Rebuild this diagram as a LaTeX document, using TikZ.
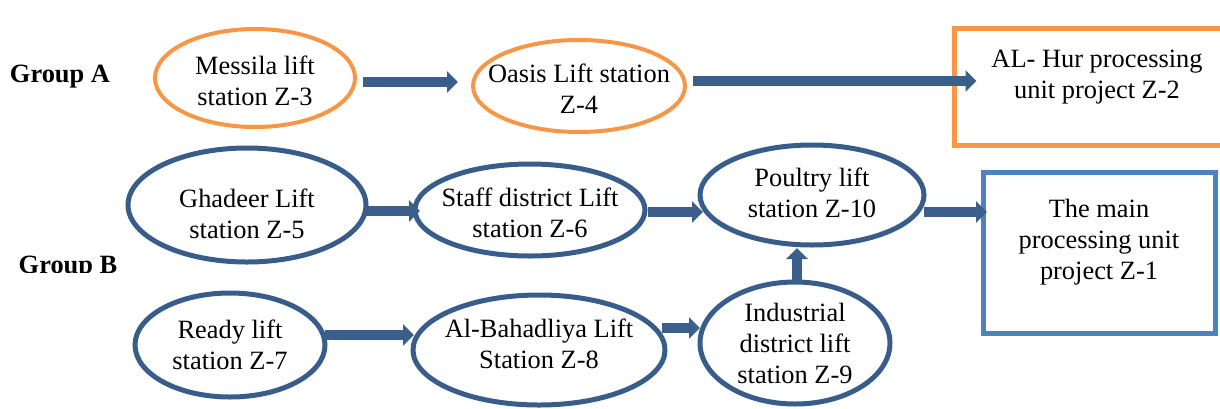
\documentclass[tikz,border=0pt]{standalone}
\usepackage{fontspec}
\setmainfont{Liberation Serif}
\usetikzlibrary{shapes.geometric,arrows.meta,calc}
\definecolor{orng}{HTML}{F79646}
\definecolor{dblue}{HTML}{385D8A}
\definecolor{lblue}{HTML}{4F81BD}
\definecolor{arrc}{HTML}{3A5F8B}
\tikzset{
  ell/.style={ellipse, draw=#1, line width=3.75pt, inner sep=0pt, outer sep=0pt},
  box/.style={rectangle, draw=#1, line width=3.75pt, inner sep=0pt, outer sep=0pt},
  txt/.style={align=center, font=\fontsize{19.8}{23.25}\selectfont, inner sep=0pt},
  grp/.style={font=\fontsize{19.8}{23.25}\selectfont\bfseries, inner sep=0pt},
  arr/.style={draw=arrc, line width=7.5pt, -{Triangle[length=8.25pt,width=15.75pt]}},
  sz/.style 2 args={minimum width=#1*0.75pt, minimum height=#2*0.75pt},
}
\begin{document}
\begin{tikzpicture}[x=0.75pt,y=-0.75pt]
\useasboundingbox (0,0) rectangle (1220,408);
\clip (0,0) rectangle (1220,408);
% Group labels
\node[grp] (ga) at (60,77) {Group A};
\begin{scope}
\clip (0,240) rectangle (200,272);
\node[grp] (gb) at (68,268) {Group B};
\end{scope}
% Group A
\node[ell=orng, line width=3pt, sz={200}{98},
  label={[txt,yshift=-2pt]center:Messila lift\\station Z-3}] (m) at (255,78) {};
\node[ell=orng, line width=3pt, sz={212}{92},
  label={[txt,yshift=-2pt]center:Oasis Lift station\\Z-4}] (o) at (579,86) {};
\node[box=orng, sz={285}{117},
  label={[txt,yshift=7pt]center:AL- Hur processing\\unit project Z-2}] (h) at (1097,86.5) {};
% Group B
\node[ell=dblue, sz={238}{114},
  label={[txt,yshift=-6.5pt]center:Ghadeer Lift\\station Z-5}] (g) at (247,205) {};
\node[ell=dblue, sz={230}{92},
  label={[txt,yshift=-2pt]center:Staff district Lift\\station Z-6}] (s) at (530,210) {};
\node[ell=dblue, sz={224}{100},
  label={[txt,yshift=1.5pt]center:Poultry lift\\station Z-10}] (p) at (812,195) {};
\node[box=lblue, sz={232}{161},
  label={[txt,yshift=8pt]center:The main\\processing unit\\project Z-1}] (mn) at (1099,252.5) {};
\node[ell=dblue, sz={190}{104},
  label={[txt]center:Ready lift\\station Z-7}] (r) at (230,345) {};
\node[ell=dblue, sz={252}{110},
  label={[txt,yshift=5pt]center:Al-Bahadliya Lift\\Station Z-8}] (b) at (539,350) {};
\node[ell=dblue, sz={190}{122},
  label={[txt]center:Industrial\\district lift\\station Z-9}] (i) at (795,343) {};
% Arrows
\draw[arr] ($(m.east)+(8,4)$) -- ($(o.west)+(-15,-4)$);
\draw[arr] ($(o.east)+(8,-5)$) -- ($(h.west)+(22,-5.5)$);
\draw[arr] ($(g.east)+(0,6)$) -- ($(s.west)+(5,1)$);
\draw[arr] ($(s.east)+(3,2)$) -- ($(p.west)+(3,17)$);
\draw[arr] ($(p.east)+(0,17)$) -- ($(mn.west)+(4,-40.5)$);
\draw[arr] ($(r.east)+(0,-10)$) -- ($(b.west)+(1,-15)$);
\draw[arr] ($(b.east)+(-3,-22)$) -- ($(i.west)+(0,-15)$);
\draw[arr] ($(i.north)+(2,0)$) -- ($(p.south)+(-15,3)$);
\end{tikzpicture}
\end{document}
